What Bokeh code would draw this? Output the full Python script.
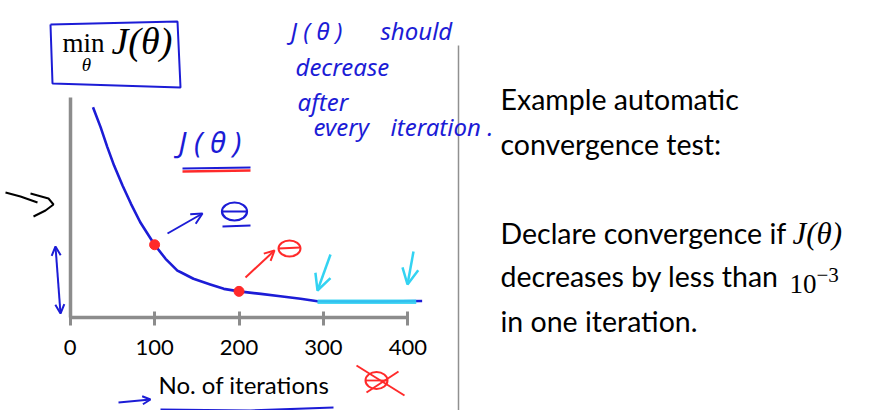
from bokeh.plotting import figure
from bokeh.models import Range1d, LinearAxis, FixedTicker, Label, Arrow, OpenHead
from bokeh.embed import file_html
from bokeh.resources import INLINE

# ---------------- data ----------------
iterations = [27, 36, 44, 52, 62, 72, 83, 93, 100, 113, 119, 127, 131, 146,
              166, 182, 200, 226, 249, 273, 293, 330, 370, 417]
cost = [1.00, 0.905, 0.81, 0.722, 0.627, 0.54, 0.452, 0.389, 0.345, 0.278,
        0.254, 0.222, 0.214, 0.183, 0.156, 0.135, 0.123, 0.111, 0.100, 0.088,
        0.076, 0.075, 0.075, 0.077]
marked_iterations = [100, 200]
marked_cost = [0.345, 0.123]
converged_iterations = [293, 410]
converged_cost = [0.073, 0.073]
x_ticks = [0, 100, 200, 300, 400]
x_tick_labels = ["0", "100", "200", "300", "400"]
x_label = "No. of iterations"
slide_lines = ["Example automatic", "convergence test:", "Declare convergence if",
               "decreases by less than", "in one iteration."]
note_words = ["J ( \u03b8 )", "should", "decrease", "after", "every", "iteration ."]

# ---------------- layout constants ----------------
W, H = 884, 410
ORIGIN_PX, PX_PER_X = 69.7, 0.844
ORIGIN_PY, PX_PER_Y = 316.7, 210.0
x0 = -ORIGIN_PX / PX_PER_X
y0 = -(H - ORIGIN_PY) / PX_PER_Y

BLUE = "#1c1cd6"
RED = "#ff2a2a"
CYAN = "#33d3f2"
GRAY = "#8c8c8c"
SANS = "Lato"
SERIF = "Liberation Serif"
HAND = "Noto Sans"

p = figure(width=W, height=H, output_backend="svg", toolbar_location=None,
           x_range=Range1d(x0, x0 + W / PX_PER_X),
           y_range=Range1d(y0, y0 + H / PX_PER_Y),
           x_axis_type=None, y_axis_type=None,
           min_border=0, min_border_left=0, min_border_right=0,
           min_border_top=0, min_border_bottom=0)
p.outline_line_color = None
p.background_fill_color = "white"
p.border_fill_color = "white"
p.extra_x_ranges = {"px": Range1d(0, W)}
p.extra_y_ranges = {"px": Range1d(H, 0)}
PX = dict(x_range_name="px", y_range_name="px")

# ---------------- axes ----------------
xaxis = LinearAxis(fixed_location=0, ticker=FixedTicker(ticks=x_ticks), bounds=(0, 400),
                   major_label_overrides={t: l for t, l in zip(x_ticks, x_tick_labels)},
                   axis_line_color=GRAY, axis_line_width=3.5,
                   major_tick_line_color=GRAY, major_tick_line_width=3,
                   major_tick_in=6, major_tick_out=8,
                   minor_tick_line_color=None,
                   major_label_text_font=SANS, major_label_text_font_size="22px",
                   major_label_text_color="black", major_label_standoff=15)
p.add_layout(xaxis, "below")
yaxis = LinearAxis(fixed_location=0, ticker=FixedTicker(ticks=[]), bounds=(0, 1.048),
                   axis_line_color=GRAY, axis_line_width=3.5,
                   major_tick_line_color=None, minor_tick_line_color=None,
                   major_label_text_font_size="0px")
p.add_layout(yaxis, "left")

# ---------------- data marks ----------------
p.line(iterations, cost, line_color=BLUE, line_width=2.6, line_join="round")
p.line(converged_iterations, converged_cost, line_color=CYAN, line_width=4.5, line_alpha=0.9)
p.scatter(marked_iterations, marked_cost, size=10, fill_color=RED, line_color=RED)

p.add_layout(Label(x=158, y=398, text=x_label, text_font=SANS, text_font_size="24px",
                   text_color="black", **PX))

# ---------------- divider ----------------
p.line([458, 458], [45, 410], line_color="#909090", line_width=1.5, **PX)

# ---------------- slide text ----------------
base_y = [115, 160, 249, 292, 337]
for t, by in zip(slide_lines, base_y):
    p.add_layout(Label(x=500, y=by, text=t, text_font=SANS, text_font_size="28.5px",
                       text_color="black", **PX))
p.add_layout(Label(x=792, y=250, text="J(\u03b8)", text_font=SERIF, text_font_style="italic",
                   text_font_size="31px", text_color="black", **PX))
p.add_layout(Label(x=789, y=292, text="10", text_font=SERIF,
                   text_font_size="27px", text_color="black", **PX))
p.add_layout(Label(x=816, y=281, text="\u22123", text_font=SERIF,
                   text_font_size="21px", text_color="black", **PX))

# ---------------- min J box ----------------
p.line([50, 177, 180, 52, 50], [24, 21, 87, 83, 24], line_color=BLUE, line_width=2, **PX)
p.add_layout(Label(x=62, y=57, text="min", text_font=SERIF, text_font_size="27px",
                   text_color="black", **PX))
p.add_layout(Label(x=86, y=74, text="\u03b8", text_font=SERIF, text_font_style="italic",
                   text_font_size="19px", text_color="black", text_align="center", **PX))
p.add_layout(Label(x=111, y=61, text="J(\u03b8)", text_font=SERIF, text_font_style="italic",
                   text_font_size="38px", text_color="black", **PX))

# ---------------- handwritten notes ----------------
note_pos = [(290, 46), (380, 46), (295, 82), (297, 117), (313, 142), (390, 142)]
for t, (nx, ny) in zip(note_words, note_pos):
    p.add_layout(Label(x=nx, y=ny, text=t, text_font=HAND, text_font_style="italic",
                       text_font_size="24px", text_color=BLUE, **PX))
p.add_layout(Label(x=178, y=160, text="J ( \u03b8 )", text_font=HAND, text_font_style="italic",
                   text_font_size="29px", text_color=BLUE, **PX))
p.line([182, 250], [168, 167], line_color=BLUE, line_width=2, **PX)
p.line([182, 250], [171, 170], line_color=RED, line_width=2.5, **PX)

# theta marks
p.ellipse(x=[234], y=[211], width=25, height=18, width_units="screen", height_units="screen",
          fill_alpha=0, line_color=BLUE, line_width=2.2, **PX)
p.line([222, 246], [211, 211], line_color=BLUE, line_width=2, **PX)
p.line([222, 250], [226, 225], line_color=BLUE, line_width=2, **PX)
p.ellipse(x=[289], y=[248], width=22, height=16, width_units="screen", height_units="screen",
          fill_alpha=0, line_color=RED, line_width=2, **PX)
p.line([278, 300], [248, 247], line_color=RED, line_width=1.8, **PX)
# crossed theta
p.ellipse(x=[376], y=[380], width=22, height=17, width_units="screen", height_units="screen",
          fill_alpha=0, line_color=RED, line_width=2, **PX)
p.line([365, 387], [380, 380], line_color=RED, line_width=1.8, **PX)
p.line([356, 404], [365, 395], line_color=RED, line_width=2, **PX)
p.line([398, 366], [371, 392], line_color=RED, line_width=2, **PX)

# arrows
def arrow(xs, ys, xe, ye, color, both=False, size=9, lw=2):
    head = OpenHead(size=size, line_color=color, line_width=lw)
    kw = dict(start=OpenHead(size=size, line_color=color, line_width=lw)) if both else dict(start=None)
    p.add_layout(Arrow(x_start=xs, y_start=ys, x_end=xe, y_end=ye, end=head,
                       line_color=color, line_width=lw, **kw, **PX))

arrow(167, 233, 202, 213, BLUE, size=11)
arrow(245, 277, 274, 250, RED, size=10)
arrow(330, 254, 317, 290, CYAN, size=16, lw=2.5)
arrow(413, 251, 407, 284, CYAN, size=16, lw=2.5)
arrow(118, 402, 150, 399, BLUE, size=8)
arrow(55, 246, 60, 313, BLUE, both=True, size=9)
p.line([160, 250, 333], [409, 410, 407], line_color=BLUE, line_width=2, **PX)

# black squiggle
p.line([5, 20, 37], [192, 196, 202], line_color="black", line_width=2, **PX)
p.line([30, 48, 53, 45, 33], [193, 198, 204, 210, 216], line_color="black", line_width=2, **PX)

open("out.html", "w").write(file_html(p, INLINE))
